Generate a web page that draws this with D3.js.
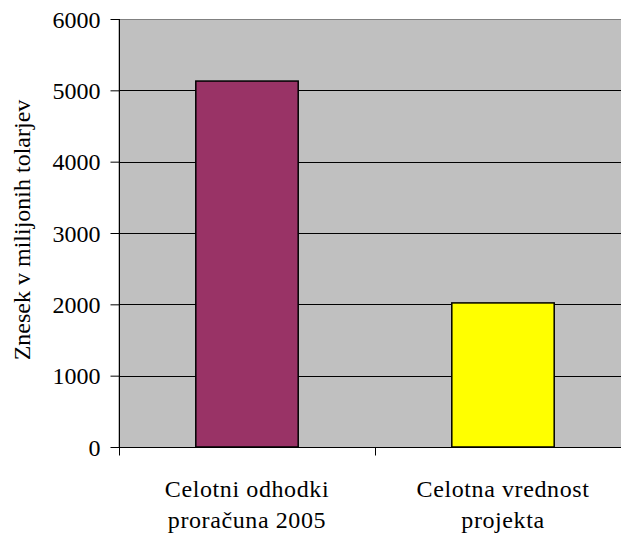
<!DOCTYPE html>
<html><head><meta charset="utf-8">
<script src="https://cdn.jsdelivr.net/npm/d3@7"></script>
<style>svg text{font-family:"Times New Roman","Liberation Serif",serif !important;}</style>
</head><body style="margin:0;background:#fff"><svg id="c" width="621" height="534" font-family="serif"></svg>
<script>
const categories = [["Celotni odhodki","proračuna 2005"],["Celotna vrednost","projekta"]];
const values = [5130, 2020];
const colors = ["#993366","#ffff00"];
const yTicks = [0,1000,2000,3000,4000,5000,6000];
const yTitle = "Znesek v milijonih tolarjev";

const svg = d3.select("#c");
const L=119, R=631, T=19, B=447;
const x = d3.scaleBand().domain(d3.range(categories.length)).range([L,R]).paddingInner(0.6).paddingOuter(0.3);
const y = d3.scaleLinear().domain([0,6000]).range([B,T]);

svg.append("rect").attr("x",L).attr("y",T+0.5).attr("width",R-L).attr("height",B-T).attr("fill","#c0c0c0").attr("stroke","#808080").attr("stroke-width",1);
svg.append("g").selectAll("line").data(yTicks.filter(d=>d>0&&d<6000)).join("line")
  .attr("x1",L).attr("x2",R).attr("y1",d=>Math.round(y(d))+0.5).attr("y2",d=>Math.round(y(d))+0.5).attr("stroke","#000").attr("stroke-width",1);

svg.append("g").selectAll("rect").data(values).join("rect")
  .attr("x",(d,i)=>x(i)).attr("width",x.bandwidth()).attr("y",d=>y(d)).attr("height",d=>B-y(d))
  .attr("fill",(d,i)=>colors[i]).attr("stroke","#000").attr("stroke-width",1.5);

const ya = svg.append("g").attr("transform",`translate(${L+0.5},0)`)
  .call(d3.axisLeft(y).tickValues(yTicks).tickSize(9).tickPadding(10).tickFormat(d3.format("d")));
ya.attr("font-family","Times New Roman").attr("font-size",24);
ya.selectAll("line,path").attr("stroke","#000");
ya.selectAll("text").attr("fill","#000").attr("dy","0.34em").attr("font-family","Times New Roman");
ya.select(".domain").attr("d",`M0,${T}V${B}`);

const xb = d3.scaleLinear().domain([0,2]).range([L,R]);
const xa = svg.append("g").attr("transform",`translate(0,${B+0.5})`);
xa.append("line").attr("x1",L).attr("x2",R).attr("stroke","#000");
xa.selectAll("line.t").data([0,1,2]).join("line").attr("class","t")
  .attr("x1",d=>Math.round(xb(d))+0.5).attr("x2",d=>Math.round(xb(d))+0.5).attr("y1",0).attr("y2",8).attr("stroke","#000");

const lab = svg.append("g").selectAll("text").data(categories).join("text")
  .attr("text-anchor","middle").attr("font-family","Times New Roman").attr("font-size",24).attr("letter-spacing",0.6);
lab.each(function(d,i){
  const t=d3.select(this);
  d.forEach((s,j)=>t.append("tspan").attr("x",x(i)+x.bandwidth()/2).attr("y",497+j*31).text(s));
});

svg.append("text").attr("transform",`translate(30,230) rotate(-90)`).attr("text-anchor","middle")
  .attr("font-family","Times New Roman").attr("font-size",24).text(yTitle);
</script></body></html>
